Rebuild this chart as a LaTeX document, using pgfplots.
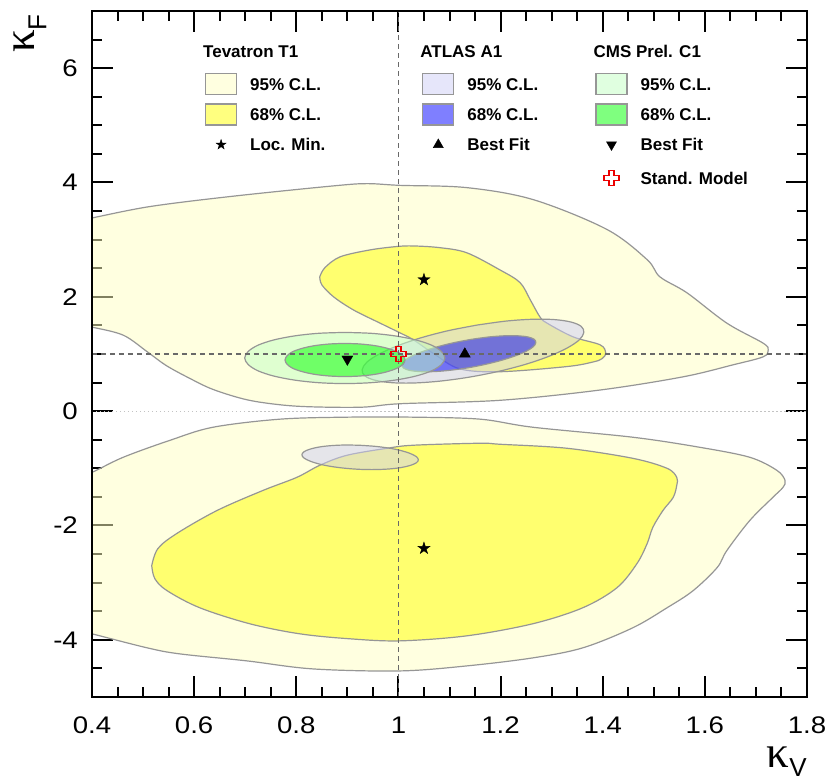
\documentclass[border=0pt]{standalone}
\usepackage{fontspec}
\setmainfont{Liberation Sans}
\newfontfamily\kfont{Liberation Serif}
\usepackage{graphicx}
\usepackage{pgfplots}
\pgfplotsset{compat=1.18}

\definecolor{t95}{RGB}{255,255,193}
\definecolor{t68}{RGB}{255,255,0}
\definecolor{a95}{RGB}{205,205,245}
\definecolor{a68}{RGB}{0,0,255}
\definecolor{c95}{RGB}{193,255,193}
\definecolor{c68}{RGB}{0,255,0}
\definecolor{cline}{RGB}{150,150,150}
\definecolor{dline}{RGB}{105,105,105}
\definecolor{zline}{RGB}{195,195,195}
\definecolor{smred}{RGB}{235,0,0}

\pgfdeclareplotmark{fstar}{%
 \pgfpathmoveto{\pgfqpoint{0pt}{\pgfplotmarksize}}%
 \pgfpathlineto{\pgfqpoint{-0.2245\pgfplotmarksize}{0.309\pgfplotmarksize}}%
 \pgfpathlineto{\pgfqpoint{-0.951\pgfplotmarksize}{0.309\pgfplotmarksize}}%
 \pgfpathlineto{\pgfqpoint{-0.363\pgfplotmarksize}{-0.118\pgfplotmarksize}}%
 \pgfpathlineto{\pgfqpoint{-0.588\pgfplotmarksize}{-0.809\pgfplotmarksize}}%
 \pgfpathlineto{\pgfqpoint{0pt}{-0.382\pgfplotmarksize}}%
 \pgfpathlineto{\pgfqpoint{0.588\pgfplotmarksize}{-0.809\pgfplotmarksize}}%
 \pgfpathlineto{\pgfqpoint{0.363\pgfplotmarksize}{-0.118\pgfplotmarksize}}%
 \pgfpathlineto{\pgfqpoint{0.951\pgfplotmarksize}{0.309\pgfplotmarksize}}%
 \pgfpathlineto{\pgfqpoint{0.2245\pgfplotmarksize}{0.309\pgfplotmarksize}}%
 \pgfpathclose\pgfusepathqfillstroke}
\pgfdeclareplotmark{ocross}{%
 \pgfpathmoveto{\pgfqpoint{-0.34\pgfplotmarksize}{\pgfplotmarksize}}%
 \pgfpathlineto{\pgfqpoint{0.34\pgfplotmarksize}{\pgfplotmarksize}}%
 \pgfpathlineto{\pgfqpoint{0.34\pgfplotmarksize}{0.34\pgfplotmarksize}}%
 \pgfpathlineto{\pgfqpoint{\pgfplotmarksize}{0.34\pgfplotmarksize}}%
 \pgfpathlineto{\pgfqpoint{\pgfplotmarksize}{-0.34\pgfplotmarksize}}%
 \pgfpathlineto{\pgfqpoint{0.34\pgfplotmarksize}{-0.34\pgfplotmarksize}}%
 \pgfpathlineto{\pgfqpoint{0.34\pgfplotmarksize}{-\pgfplotmarksize}}%
 \pgfpathlineto{\pgfqpoint{-0.34\pgfplotmarksize}{-\pgfplotmarksize}}%
 \pgfpathlineto{\pgfqpoint{-0.34\pgfplotmarksize}{-0.34\pgfplotmarksize}}%
 \pgfpathlineto{\pgfqpoint{-\pgfplotmarksize}{-0.34\pgfplotmarksize}}%
 \pgfpathlineto{\pgfqpoint{-\pgfplotmarksize}{0.34\pgfplotmarksize}}%
 \pgfpathlineto{\pgfqpoint{-0.34\pgfplotmarksize}{0.34\pgfplotmarksize}}%
 \pgfpathclose\pgfusepathqstroke}

\newcommand\tkl[1]{\scalebox{1.15}[1]{#1}}
\newcommand\lA[1]{\makebox[159pt][l]{#1}}
\newcommand\lB[1]{\makebox[115pt][l]{#1}}
\newcommand\lC[1]{\makebox[120pt][l]{#1}}
\newcommand\ttl[1]{\hspace*{-47pt}\raisebox{6.5pt}{#1}}

\pgfplotsset{
  swatch/.style={legend image code/.code={\draw[##1,draw=cline,line width=1.2pt] (0pt,-10.5pt) rectangle (31pt,10.5pt);}},
  markimg/.style={legend image code/.code={\path[draw=none,fill=none] (0pt,-10.5pt) rectangle (31pt,10.5pt); \draw[##1] plot coordinates {(15.5pt,0pt)};}},
  markimgB/.style={legend image code/.code={\path[draw=none,fill=none] (0pt,-10.5pt) rectangle (31pt,14.5pt); \draw[##1] plot coordinates {(15.5pt,0pt)};}},
  region/.style={draw=cline, line width=1.2pt, fill opacity=0.5, draw opacity=1, smooth, tension=0.55, forget plot},
}

\begin{document}
\begin{tikzpicture}
\begin{axis}[
  scale only axis, width=715pt, height=686pt,
  xmin=0.4, xmax=1.8, ymin=-5, ymax=7,
  xtick={0.4,0.6,0.8,1,1.2,1.4,1.6,1.8},
  xticklabels={\tkl{0.4},\tkl{0.6},\tkl{0.8},\tkl{1},\tkl{1.2},\tkl{1.4},\tkl{1.6},\tkl{1.8}},
  ytick={-4,-2,0,2,4,6},
  yticklabels={\tkl{-4},\tkl{-2},\tkl{0},\tkl{2},\tkl{4},\tkl{6}},
  minor xtick={0.45,0.5,0.55,0.65,0.7,0.75,0.85,0.9,0.95,1.05,1.1,1.15,1.25,1.3,1.35,1.45,1.5,1.55,1.65,1.7,1.75},
  minor ytick={-4.5,-3.5,-3,-2.5,-1.5,-1,-0.5,0.5,1,1.5,2.5,3,3.5,4.5,5,5.5,6.5},
  tick align=inside,
  xtick pos=both, ytick pos=both,
  major tick length=21pt, minor tick length=10pt,
  tick style={black, line width=2pt},
  axis line style={line width=2.5pt},
  tick label style={font=\fontsize{24}{28}\selectfont, inner sep=0pt},
  xticklabel style={yshift=-20pt},
  yticklabel style={xshift=-14pt},
  legend columns=3,
  legend cell align=left,
  legend style={at={(0,1)}, anchor=north west, xshift=113pt, yshift=-41pt,
    draw=none, fill=none, inner sep=0pt, outer sep=0pt,
    column sep=13pt, row sep=8.5pt,
    font=\bfseries\fontsize{17}{20}\selectfont,
    nodes={inner sep=0pt, text depth=0pt, text height=12.3pt}},
  after end axis/.code={
    \draw[line width=2.5pt] (rel axis cs:0,0) rectangle (rel axis cs:1,1);
    \node[anchor=east, rotate=90, inner sep=0pt] at ([xshift=-62pt,yshift=-3pt]rel axis cs:0,1)
      {{\kfont\fontsize{45}{50}\selectfont κ}\raisebox{-12pt}{\fontsize{26}{30}\selectfont F}};
    \node[anchor=south east, inner sep=0pt] at ([yshift=-80pt]rel axis cs:1,0)
      {{\kfont\fontsize{45}{50}\selectfont κ}\raisebox{-9pt}{\fontsize{26}{30}\selectfont V}};
  },
]
% Tevatron 95% (upper)
\addplot[region, fill=t95] coordinates {
(0.38,1.50) (0.400,1.47) (0.461,1.33) (0.508,1.04) (0.545,0.80) (0.59,0.58) (0.637,0.38) (0.703,0.20) (0.77,0.11) (0.833,0.075) (0.93,0.07) (1.003,0.13) (1.199,0.19) (1.395,0.37) (1.557,0.60) (1.655,0.81) (1.714,0.95) (1.724,1.07) (1.714,1.19) (1.643,1.54) (1.565,2.07) (1.512,2.35) (1.487,2.65) (1.408,3.18) (1.264,3.70) (1.134,3.91) (1.003,3.95) (0.938,3.98) (0.872,3.94) (0.676,3.76) (0.514,3.58) (0.400,3.38) (0.38,3.35)
} -- cycle;
% Tevatron 95% (lower)
\addplot[region, fill=t95] coordinates {
(0.38,-1.10) (0.400,-1.070) (0.461,-0.807) (0.553,-0.509) (0.637,-0.281) (0.768,-0.140) (0.899,-0.105) (1.029,-0.105) (1.160,-0.140) (1.263,-0.281) (1.459,-0.456) (1.590,-0.632) (1.688,-0.807) (1.741,-1.035) (1.757,-1.211) (1.753,-1.333) (1.733,-1.509) (1.688,-1.912) (1.643,-2.439) (1.624,-2.737) (1.577,-3.140) (1.526,-3.439) (1.459,-3.789) (1.361,-4.140) (1.263,-4.316) (1.134,-4.456) (1.003,-4.544) (0.833,-4.509) (0.703,-4.368) (0.572,-4.246) (0.508,-4.140) (0.400,-3.895) (0.38,-3.86)
} -- cycle;
% Tevatron 68% (upper)
\addplot[region, fill=t68] coordinates {
(0.846,2.35) (0.856,2.51) (0.886,2.70) (0.944,2.82) (0.997,2.88) (1.029,2.89) (1.081,2.86) (1.134,2.77) (1.199,2.47) (1.238,2.25) (1.258,1.95) (1.277,1.65) (1.291,1.54) (1.342,1.30) (1.395,1.16) (1.406,1.02) (1.399,0.92) (1.381,0.86) (1.330,0.78) (1.199,0.69) (1.12,0.74) (1.07,1.0) (1.029,1.25) (1.003,1.37) (0.964,1.54) (0.912,1.77) (0.873,2.00) (0.850,2.21) (0.846,2.35)
} -- cycle;
% Tevatron 68% (lower)
\addplot[region, fill=t68] coordinates {
(0.517,-2.702) (0.529,-2.404) (0.566,-2.140) (0.645,-1.737) (0.735,-1.386) (0.801,-1.158) (0.846,-0.947) (0.899,-0.772) (0.978,-0.649) (1.029,-0.596) (1.160,-0.561) (1.199,-0.579) (1.330,-0.649) (1.459,-0.825) (1.526,-1.000) (1.545,-1.158) (1.545,-1.298) (1.538,-1.509) (1.518,-1.737) (1.498,-2.035) (1.487,-2.316) (1.467,-2.667) (1.428,-3.088) (1.361,-3.439) (1.263,-3.719) (1.134,-3.930) (1.003,-4.018) (0.905,-3.982) (0.807,-3.895) (0.709,-3.719) (0.611,-3.439) (0.547,-3.140) (0.523,-2.930) (0.517,-2.702)
} -- cycle;
% ATLAS 95% (upper)
\addplot[region, fill=a95] coordinates {
(1.154,1.506) (1.097,1.407) (1.044,1.283) (0.998,1.143) (0.962,0.997) (0.938,0.855) (0.929,0.725) (0.934,0.619) (0.954,0.541) (0.987,0.498) (1.031,0.493) (1.082,0.526) (1.138,0.594) (1.195,0.694) (1.248,0.817) (1.294,0.957) (1.330,1.103) (1.354,1.246) (1.363,1.375) (1.358,1.482) (1.338,1.559) (1.305,1.602) (1.261,1.607) (1.210,1.575) (1.154,1.506)
} -- cycle;
% ATLAS 95% (lower)
\addplot[region, fill=a95] coordinates {
(0.925,-0.597) (0.896,-0.592) (0.868,-0.603) (0.845,-0.627) (0.827,-0.664) (0.815,-0.710) (0.811,-0.763) (0.815,-0.819) (0.827,-0.874) (0.845,-0.925) (0.868,-0.967) (0.896,-0.999) (0.925,-1.018) (0.954,-1.022) (0.982,-1.011) (1.005,-0.987) (1.023,-0.950) (1.035,-0.904) (1.039,-0.851) (1.035,-0.795) (1.023,-0.740) (1.005,-0.689) (0.982,-0.647) (0.954,-0.615) (0.925,-0.597)
} -- cycle;
% ATLAS 68%
\addplot[region, fill=a68] coordinates {
(1.142,1.255) (1.108,1.197) (1.076,1.125) (1.048,1.045) (1.026,0.963) (1.012,0.883) (1.007,0.812) (1.010,0.754) (1.022,0.713) (1.042,0.692) (1.069,0.692) (1.100,0.714) (1.134,0.755) (1.168,0.814) (1.200,0.885) (1.228,0.965) (1.250,1.047) (1.264,1.127) (1.269,1.198) (1.266,1.256) (1.254,1.297) (1.234,1.318) (1.207,1.318) (1.176,1.297) (1.142,1.255)
} -- cycle;
% CMS 95%
\addplot[region, fill=c95] coordinates {
(0.895,1.377) (0.844,1.362) (0.797,1.317) (0.756,1.246) (0.725,1.154) (0.706,1.046) (0.699,0.930) (0.706,0.814) (0.725,0.706) (0.756,0.614) (0.797,0.543) (0.844,0.498) (0.895,0.483) (0.946,0.498) (0.993,0.543) (1.034,0.614) (1.065,0.706) (1.084,0.814) (1.091,0.930) (1.084,1.046) (1.065,1.154) (1.034,1.246) (0.993,1.317) (0.946,1.362) (0.895,1.377)
} -- cycle;
% CMS 68%
\addplot[region, fill=c68] coordinates {
(0.895,1.185) (0.865,1.175) (0.836,1.146) (0.812,1.100) (0.793,1.040) (0.782,0.970) (0.778,0.895) (0.782,0.820) (0.793,0.750) (0.812,0.690) (0.836,0.644) (0.865,0.615) (0.895,0.606) (0.925,0.615) (0.954,0.644) (0.978,0.690) (0.997,0.750) (1.009,0.820) (1.013,0.895) (1.009,0.970) (0.997,1.040) (0.978,1.100) (0.954,1.146) (0.925,1.175) (0.895,1.185)
} -- cycle;
% reference lines
\addplot[zline, line width=1.3pt, dash pattern=on 1.5pt off 2.5pt, forget plot] coordinates {(0.4,0) (1.8,0)};
\addplot[dline, line width=1.2pt, dash pattern=on 5pt off 4pt, forget plot] coordinates {(0.4,1) (1.8,1)};
\addplot[dline, line width=1.2pt, dash pattern=on 5pt off 4pt, forget plot] coordinates {(1,-5) (1,7)};
% markers
\addplot[only marks, black, mark=fstar, mark size=6.3pt, forget plot] coordinates {(1.05,2.3) (1.05,-2.4)};
\addplot[only marks, black, mark=triangle*, mark size=6.3pt, forget plot] coordinates {(1.13,1.0)};
\addplot[only marks, black, mark=triangle*, mark size=6.3pt, mark options={rotate=180}, forget plot] coordinates {(0.9,0.91)};
\addplot[only marks, smred, mark=ocross, mark size=7.5pt, line width=1.5pt, forget plot] coordinates {(1,1)};
% legend
\addlegendimage{empty legend}\addlegendentry{\lA{\ttl{Tevatron T1}}}
\addlegendimage{empty legend}\addlegendentry{\lB{\ttl{ATLAS A1}}}
\addlegendimage{empty legend}\addlegendentry{\lC{\ttl{CMS Prel. C1}}}
\addlegendimage{swatch, fill=t95, fill opacity=0.5}\addlegendentry{\lA{95\% C.L.}}
\addlegendimage{swatch, fill=a95, fill opacity=0.5}\addlegendentry{\lB{95\% C.L.}}
\addlegendimage{swatch, fill=c95, fill opacity=0.5}\addlegendentry{\lC{95\% C.L.}}
\addlegendimage{swatch, fill=t68, fill opacity=0.5}\addlegendentry{\lA{68\% C.L.}}
\addlegendimage{swatch, fill=a68, fill opacity=0.5}\addlegendentry{\lB{68\% C.L.}}
\addlegendimage{swatch, fill=c68, fill opacity=0.5}\addlegendentry{\lC{68\% C.L.}}
\addlegendimage{markimg, only marks, black, mark=fstar, mark size=5.2pt}\addlegendentry{\lA{Loc. Min.}}
\addlegendimage{markimg, only marks, black, mark=triangle*, mark size=5.8pt}\addlegendentry{\lB{Best Fit}}
\addlegendimage{markimg, only marks, black, mark=triangle*, mark size=5.8pt, mark options={rotate=180}}\addlegendentry{\lC{Best Fit}}
\addlegendimage{empty legend}\addlegendentry{\lA{}}
\addlegendimage{empty legend}\addlegendentry{\lB{}}
\addlegendimage{markimgB, only marks, smred, mark=ocross, mark size=7.5pt, line width=1.5pt}\addlegendentry{\lC{Stand. Model}}
\end{axis}
\pgfresetboundingbox
\path[use as bounding box] (-92pt,-85pt) rectangle (736pt,697pt);
\end{tikzpicture}
\end{document}
